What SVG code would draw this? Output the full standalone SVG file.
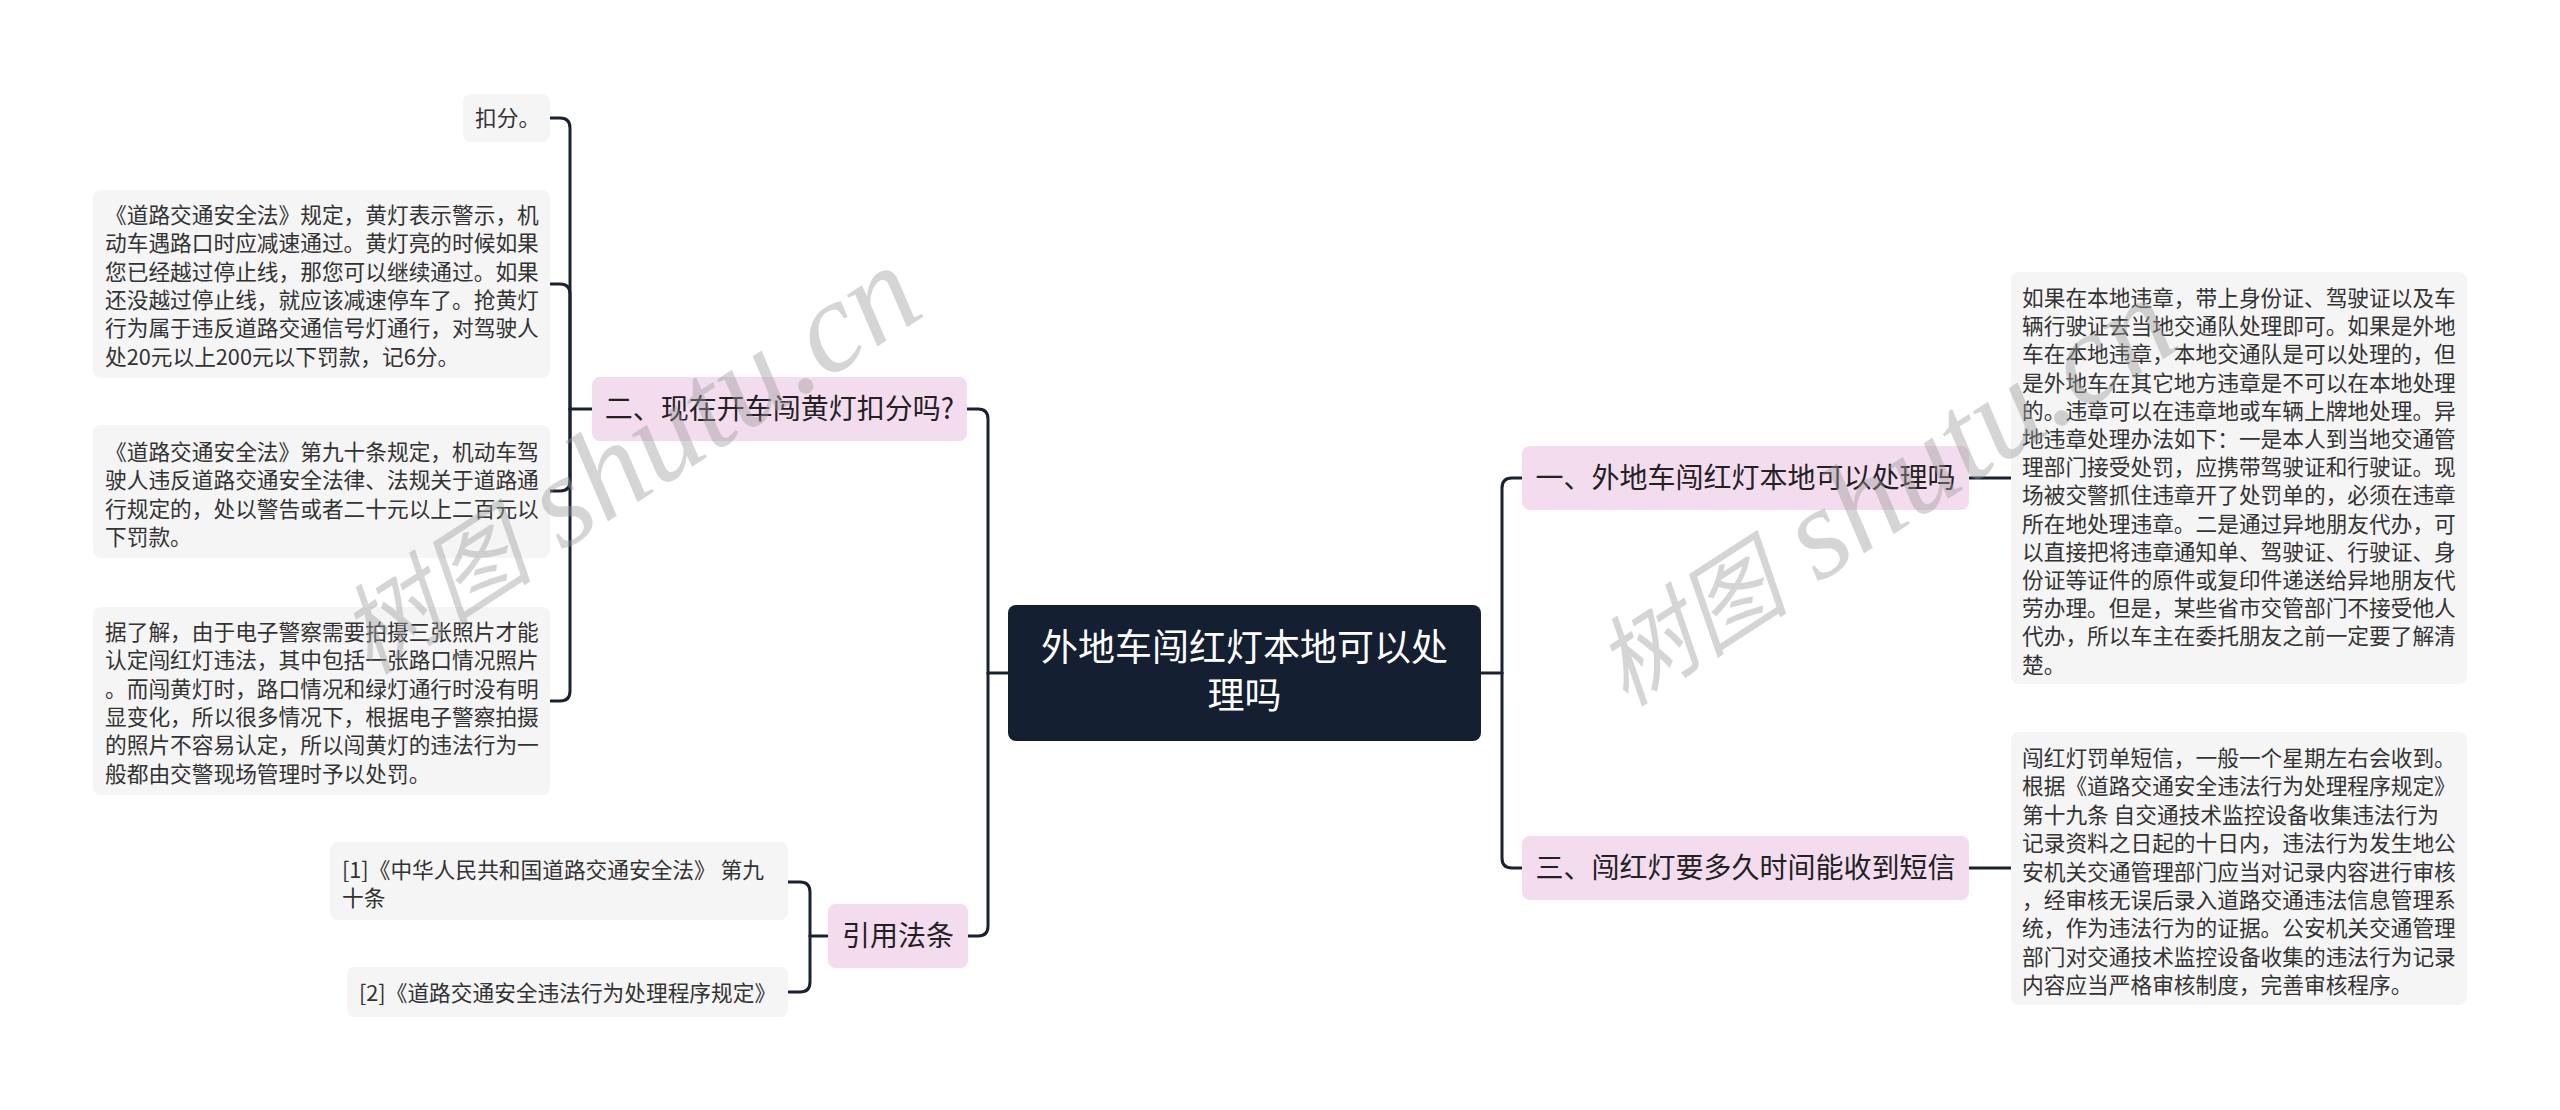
<svg xmlns="http://www.w3.org/2000/svg" width="2560" height="1110" viewBox="0 0 2560 1110">
<defs>
<style>
.t{font-family:"Noto Sans CJK SC","Liberation Sans",sans-serif;}
.leaf rect{fill:#f5f5f5;}
.leaf text{font-size:21.7px;fill:#333333;}
.mid rect{fill:#f4dcef;}
.mid text{font-size:28px;fill:#222222;text-anchor:middle;}
.root rect{fill:#142032;}
.root text{font-size:37px;fill:#ffffff;text-anchor:middle;}
.conn path{fill:none;stroke:#1a2232;stroke-width:3;stroke-linecap:round;}
.wm{font-family:"Liberation Serif","Noto Sans CJK SC",serif;font-style:italic;fill:#9a9a9a;fill-opacity:0.42;}
.wm .cj{font-size:98px;}
.wm .la{font-size:130px;}
</style>
</defs>
<rect width="2560" height="1110" fill="#ffffff"/>
<g id="connectors" class="conn">
<path d="M1008,673 H988"/>
<path d="M988,673 V419 Q988,409 978,409 H967"/>
<path d="M988,673 V926 Q988,936 978,936 H968"/>
<path d="M1481,673 H1502"/>
<path d="M1502,673 V488 Q1502,478 1512,478 H1522"/>
<path d="M1502,673 V858 Q1502,868 1512,868 H1522"/>
<path d="M1969,478 H2011"/>
<path d="M1969,868 H2011"/>
<path d="M592,409 H570"/>
<path d="M570,409 V128 Q570,118 560,118 H550"/>
<path d="M570,409 V294 Q570,284 560,284 H550"/>
<path d="M570,409 V481 Q570,491 560,491 H550"/>
<path d="M570,409 V691 Q570,701 560,701 H550"/>
<path d="M828,936 H810"/>
<path d="M810,936 V892 Q810,882 800,882 H788"/>
<path d="M810,936 V982 Q810,992 800,992 H788"/>
</g>
<g id="root" class="root t">
<rect x="1008" y="605" width="473" height="136" rx="8"/>
<text x="1244.5" y="661">外地车闯红灯本地可以处</text>
<text x="1244.5" y="709">理吗</text>
</g>
<g id="n2" class="mid t">
<rect x="592" y="377" width="375" height="64" rx="8"/>
<text x="779.5" y="419">二、现在开车闯黄灯扣分吗?</text>
</g>
<g id="nref" class="mid t">
<rect x="828" y="904" width="140" height="64" rx="8"/>
<text x="898" y="946">引用法条</text>
</g>
<g id="n1" class="mid t">
<rect x="1522" y="446" width="447" height="64" rx="8"/>
<text x="1745.5" y="488">一、外地车闯红灯本地可以处理吗</text>
</g>
<g id="n3" class="mid t">
<rect x="1522" y="836" width="447" height="64" rx="8"/>
<text x="1745.5" y="878">三、闯红灯要多久时间能收到短信</text>
</g>
<g id="l2a" class="leaf t">
<rect x="463" y="94" width="87" height="48" rx="8"/>
<text x="475" y="126">扣分。</text>
</g>
<g id="l2b" class="leaf t">
<rect x="93" y="190" width="457" height="188" rx="8"/>
<text x="105" y="223">《道路交通安全法》规定，黄灯表示警示，机</text>
<text x="105" y="251.3">动车遇路口时应减速通过。黄灯亮的时候如果</text>
<text x="105" y="279.6">您已经越过停止线，那您可以继续通过。如果</text>
<text x="105" y="307.9">还没越过停止线，就应该减速停车了。抢黄灯</text>
<text x="105" y="336.2">行为属于违反道路交通信号灯通行，对驾驶人</text>
<text x="105" y="364.5">处20元以上200元以下罚款，记6分。</text>
</g>
<g id="l2c" class="leaf t">
<rect x="93" y="425" width="457" height="133" rx="8"/>
<text x="105" y="460">《道路交通安全法》第九十条规定，机动车驾</text>
<text x="105" y="488.3">驶人违反道路交通安全法律、法规关于道路通</text>
<text x="105" y="516.6">行规定的，处以警告或者二十元以上二百元以</text>
<text x="105" y="544.9">下罚款。</text>
</g>
<g id="l2d" class="leaf t">
<rect x="93" y="607" width="457" height="188" rx="8"/>
<text x="105" y="640">据了解，由于电子警察需要拍摄三张照片才能</text>
<text x="105" y="668.3">认定闯红灯违法，其中包括一张路口情况照片</text>
<text x="105" y="696.6">。而闯黄灯时，路口情况和绿灯通行时没有明</text>
<text x="105" y="724.9">显变化，所以很多情况下，根据电子警察拍摄</text>
<text x="105" y="753.2">的照片不容易认定，所以闯黄灯的违法行为一</text>
<text x="105" y="781.5">般都由交警现场管理时予以处罚。</text>
</g>
<g id="ref1" class="leaf t">
<rect x="330" y="842" width="458" height="78" rx="8"/>
<text x="342" y="878">[1]《中华人民共和国道路交通安全法》 第九</text>
<text x="342" y="906">十条</text>
</g>
<g id="ref2" class="leaf t">
<rect x="347" y="967" width="441" height="50" rx="8"/>
<text x="359" y="1001">[2]《道路交通安全违法行为处理程序规定》</text>
</g>
<g id="l1" class="leaf t">
<rect x="2011" y="272" width="456" height="412" rx="8"/>
<text x="2022" y="306">如果在本地违章，带上身份证、驾驶证以及车</text>
<text x="2022" y="334.2">辆行驶证去当地交通队处理即可。如果是外地</text>
<text x="2022" y="362.4">车在本地违章，本地交通队是可以处理的，但</text>
<text x="2022" y="390.6">是外地车在其它地方违章是不可以在本地处理</text>
<text x="2022" y="418.8">的。违章可以在违章地或车辆上牌地处理。异</text>
<text x="2022" y="447">地违章处理办法如下：一是本人到当地交通管</text>
<text x="2022" y="475.2">理部门接受处罚，应携带驾驶证和行驶证。现</text>
<text x="2022" y="503.4">场被交警抓住违章开了处罚单的，必须在违章</text>
<text x="2022" y="531.6">所在地处理违章。二是通过异地朋友代办，可</text>
<text x="2022" y="559.8">以直接把将违章通知单、驾驶证、行驶证、身</text>
<text x="2022" y="588">份证等证件的原件或复印件递送给异地朋友代</text>
<text x="2022" y="616.2">劳办理。但是，某些省市交管部门不接受他人</text>
<text x="2022" y="644.4">代办，所以车主在委托朋友之前一定要了解清</text>
<text x="2022" y="672.6">楚。</text>
</g>
<g id="l3" class="leaf t">
<rect x="2011" y="732" width="456" height="273" rx="8"/>
<text x="2022" y="766">闯红灯罚单短信，一般一个星期左右会收到。</text>
<text x="2022" y="794.4">根据《道路交通安全违法行为处理程序规定》</text>
<text x="2022" y="822.8">第十九条 自交通技术监控设备收集违法行为</text>
<text x="2022" y="851.2">记录资料之日起的十日内，违法行为发生地公</text>
<text x="2022" y="879.6">安机关交通管理部门应当对记录内容进行审核</text>
<text x="2022" y="908">，经审核无误后录入道路交通违法信息管理系</text>
<text x="2022" y="936.4">统，作为违法行为的证据。公安机关交通管理</text>
<text x="2022" y="964.8">部门对交通技术监控设备收集的违法行为记录</text>
<text x="2022" y="993.2">内容应当严格审核制度，完善审核程序。</text>
</g>
<g id="watermarks">
<text class="wm" transform="translate(370,676) rotate(-33)"><tspan class="cj">树图</tspan><tspan class="la"> shutu.cn</tspan></text>
<text class="wm" transform="translate(1626,708) rotate(-33)"><tspan class="cj">树图</tspan><tspan class="la"> shutu.cn</tspan></text>
</g>
</svg>
